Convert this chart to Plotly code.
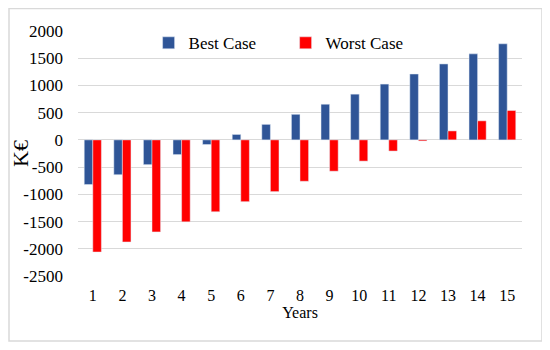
import plotly.graph_objects as go

years = [str(i) for i in range(1, 16)]
best_case = [-820, -640, -455, -270, -85, 100, 285, 470, 655, 840, 1025, 1210, 1395, 1580, 1765]
worst_case = [-2060, -1875, -1690, -1505, -1320, -1135, -950, -760, -575, -390, -205, -20, 165, 350, 540]
y_ticks = [2000, 1500, 1000, 500, 0, -500, -1000, -1500, -2000, -2500]
y_tick_labels = [str(v) for v in y_ticks]

FONT = "Liberation Serif"

fig = go.Figure()
fig.add_trace(go.Bar(name="Best Case", x=years, y=best_case, marker_color="#2F5597"))
fig.add_trace(go.Bar(name="Worst Case", x=years, y=worst_case, marker_color="#FF0000"))

# page body has an 8px default margin, so the figure is drawn 8px smaller
fig.update_layout(
    width=542, height=342,
    margin=dict(l=70, r=28, t=23, b=74, autoexpand=False),
    paper_bgcolor="white", plot_bgcolor="white",
    barmode="group", bargap=0.42, bargroupgap=0,
    font=dict(family=FONT, size=16, color="black"),
    showlegend=True,
    legend=dict(orientation="h", x=0.159, xanchor="left", y=0.95, yanchor="middle",
                font=dict(family=FONT, size=17, color="black"),
                bgcolor="rgba(0,0,0,0)", entrywidth=92, traceorder="normal"),
    xaxis=dict(title=dict(text="Years", standoff=0, font=dict(family=FONT, size=16)),
               showgrid=False, showline=False, ticks="", automargin=True,
               ticklabelstandoff=8,
               tickfont=dict(family=FONT, size=16, color="black")),
    yaxis=dict(title=dict(text="K€", font=dict(family=FONT, size=22), standoff=1),
               range=[-2500, 2000], tickvals=y_ticks, ticktext=y_tick_labels,
               showgrid=True, gridcolor="#D9D9D9", gridwidth=1, zeroline=True,
               zerolinecolor="#D9D9D9", zerolinewidth=1, ticks="", automargin=True,
               ticklabelstandoff=14,
               tickfont=dict(family=FONT, size=17, color="black"), showline=False),
    shapes=[dict(type="rect", xref="paper", yref="paper",
                 x0=-0.1554, x1=1.045, y0=-0.265, y1=1.092,
                 line=dict(color="#D9D9D9", width=1.5), layer="below")],
)

fig.write_html("out.html")
